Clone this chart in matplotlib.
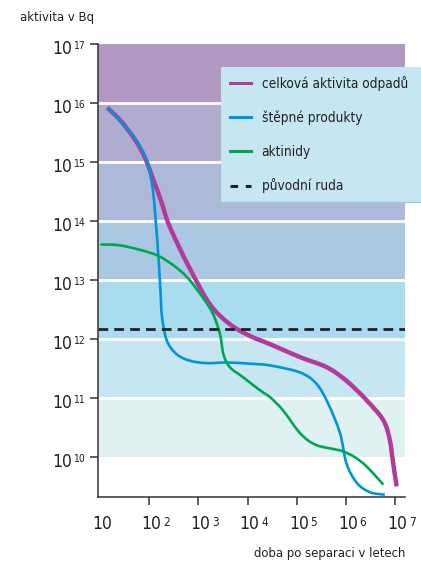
import numpy as np
import matplotlib
matplotlib.use("Agg")
import matplotlib.pyplot as plt
from matplotlib import font_manager
from matplotlib.path import Path
from matplotlib.patches import PathPatch
from matplotlib.lines import Line2D

# pick a narrow sans if one is installed
FONT, STRETCH = "Roboto", "normal"
for f in font_manager.fontManager.ttflist:
    if f.style != "normal" or f.weight not in (400, "normal", "regular"):
        continue
    if f.stretch in ("condensed", "semi-condensed") or "Narrow" in f.name or "Condensed" in f.name:
        FONT, STRETCH = f.name, f.stretch
        break
plt.rcParams["font.family"] = [FONT, "DejaVu Sans"]
plt.rcParams["font.stretch"] = STRETCH

# data: log10 of years after separation, log10 of activity in Bq
total_t = [1.15, 1.43, 1.71, 1.91, 2.08, 2.25, 2.38, 2.59, 2.86, 3.24, 3.64, 4.05, 4.46, 5.07, 5.61, 6.01, 6.42, 6.76, 6.89, 6.96, 7.03]
total_a = [15.92, 15.69, 15.38, 15.08, 14.71, 14.32, 13.98, 13.59, 13.14, 12.58, 12.25, 12.05, 11.91, 11.69, 11.52, 11.29, 10.96, 10.62, 10.29, 9.89, 9.50]
fission_t = [1.15, 1.57, 1.81, 1.98, 2.08, 2.14, 2.19, 2.23, 2.26, 2.36, 2.56, 2.83, 3.17, 3.58, 4.05, 4.46, 5.07, 5.40, 5.64, 5.88, 6.01, 6.22, 6.49, 6.79]
fission_a = [15.92, 15.55, 15.27, 14.94, 14.49, 13.93, 13.37, 12.81, 12.38, 11.97, 11.74, 11.63, 11.59, 11.60, 11.58, 11.55, 11.43, 11.24, 10.90, 10.40, 9.89, 9.56, 9.40, 9.36]
actinide_t = [1.01, 1.37, 1.77, 2.18, 2.52, 2.79, 3.10, 3.30, 3.44, 3.51, 3.64, 3.91, 4.25, 4.46, 4.72, 5.07, 5.40, 5.95, 6.35, 6.76]
actinide_a = [13.60, 13.59, 13.52, 13.41, 13.23, 13.03, 12.69, 12.42, 12.08, 11.74, 11.52, 11.35, 11.13, 11.01, 10.79, 10.40, 10.20, 10.09, 9.89, 9.53]
ore_level = 12.17

labels = ["celková aktivita odpadů", "štěpné produkty", "aktinidy", "původní ruda"]
colors = ["#b5399b", "#0095d8", "#00a651", "#222222"]
band_colors = ["#dff1f1", "#c6e6f1", "#a9dcef", "#abc8e2", "#adb9d9", "#b0acd0", "#b299c4"]
x_exp = [1, 2, 3, 4, 5, 6, 7]
y_exp = [10, 11, 12, 13, 14, 15, 16, 17]


def smooth(xs, ys):
    # cubic bezier through the read points (Catmull-Rom control points)
    p = np.column_stack([xs, ys])
    verts, codes = [p[0]], [Path.MOVETO]
    for i in range(len(p) - 1):
        p0 = p[i - 1] if i > 0 else p[i]
        p3 = p[i + 2] if i + 2 < len(p) else p[i + 1]
        verts += [p[i] + (p[i + 1] - p0) / 6, p[i + 1] - (p3 - p[i]) / 6, p[i + 1]]
        codes += [Path.CURVE4] * 3
    return Path(verts, codes)


fig = plt.figure(figsize=(4.21, 5.61), dpi=100)
ax = fig.add_axes([98/421, 1-497/561, 307/421, 453/561])
ax.set_xlim(0.96, 7.2)
ax.set_ylim(9.32, 17)

for i, c in enumerate(band_colors):
    ax.axhspan(10 + i, 11 + i, color=c, lw=0, zorder=0)
for e in range(11, 17):
    ax.axhline(e, color="white", lw=2, zorder=1)

series = [(total_t, total_a, 3.2), (fission_t, fission_a, 1.9), (actinide_t, actinide_a, 1.9)]
for k, (xs, ys, lw) in enumerate(series):
    ax.add_patch(PathPatch(smooth(xs, ys), fill=False, edgecolor=colors[k], lw=lw,
                           capstyle="butt", joinstyle="round", zorder=3 + k))
ax.axhline(ore_level, color=colors[3], lw=2, dashes=(3.5, 2.2), zorder=7)

ax.set_xticks(x_exp)
ax.set_yticks(y_exp)
ax.set_xticklabels([])
ax.set_yticklabels([])
ax.xaxis.get_major_ticks()[0].tick1line.set_visible(False)
ax.tick_params(length=5.5, width=1.1, color="#333333")
for s in ["top", "right"]:
    ax.spines[s].set_visible(False)
for s in ["left", "bottom"]:
    ax.spines[s].set_color("#333333")
    ax.spines[s].set_linewidth(1.1)

tc = "#222222"
for e in y_exp:
    base = ax.annotate("10", xy=(0, e), xycoords=("axes fraction", "data"), xytext=(-18.5, -3.8),
                       textcoords="offset points", ha="right", va="center", fontsize=12.5, color=tc)
    ax.annotate(str(e), xy=(1, 1), xycoords=base, xytext=(0.4, -0.8), textcoords="offset points",
                ha="left", va="top", fontsize=7.5, color=tc)
for e in x_exp:
    base = ax.annotate("10", xy=(e, 0), xycoords=("data", "axes fraction"), xytext=(1.5, -19.5),
                       textcoords="offset points", ha="center", va="center", fontsize=12.5, color=tc)
    if e > 1:
        ax.annotate(str(e), xy=(1, 1), xycoords=base, xytext=(1.2, -0.5), textcoords="offset points",
                    ha="left", va="top", fontsize=8.5, color=tc)

handles = [Line2D([], [], color=colors[0], lw=2.2), Line2D([], [], color=colors[1], lw=2.2),
           Line2D([], [], color=colors[2], lw=2.2), Line2D([], [], color=colors[3], lw=2.2, dashes=(2.5, 2.5))]
leg = ax.legend(handles, labels, loc="upper left",
                bbox_to_anchor=((221-98)/307, (497-67)/453, (421-221)/307, 0.001), mode="expand",
                frameon=True, fancybox=False, fontsize=9.8, handlelength=1.5,
                handletextpad=0.8, labelspacing=1.45, borderpad=0.68, borderaxespad=0)
leg.get_frame().set_facecolor("#c6e7f2")
leg.get_frame().set_edgecolor("none")
leg.get_frame().set_alpha(1)
leg.set_zorder(10)
for t in leg.get_texts():
    t.set_color(tc)

fig.canvas.draw()
bb = leg.get_window_extent()
yb = (bb.y0 + 0.5) / fig.bbox.height
fig.add_artist(Line2D([bb.x0 / fig.bbox.width, 1], [yb, yb], color="#9fc8d6", lw=1, zorder=11))

fig.text(20/421, 1-18/561, "aktivita v Bq", fontsize=9.4, color=tc, va="center", ha="left")
fig.text(405/421, 1-553/561, "doba po separaci v letech", fontsize=9.4, color=tc,
         va="center", ha="right")

fig.savefig("out.png", dpi=100)
